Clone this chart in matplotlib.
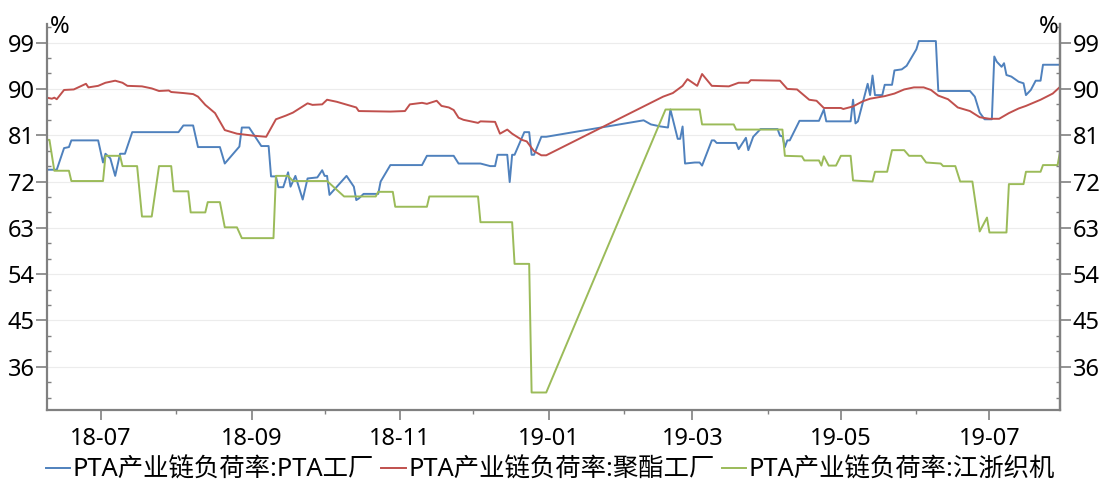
import matplotlib
matplotlib.use("Agg")
import matplotlib.pyplot as plt
import matplotlib.dates as mdates
from matplotlib.ticker import MultipleLocator
import pandas as pd

plt.rcParams["font.family"] = ["Noto Sans", "Noto Sans CJK SC", "DejaVu Sans"]

# ---------------------------------------------------------------------------
# Data
# ---------------------------------------------------------------------------

pta_dates = [
    "2018-06-09", "2018-06-13", "2018-06-16", "2018-06-18", "2018-06-19", "2018-06-30",
    "2018-07-02", "2018-07-03", "2018-07-05", "2018-07-07", "2018-07-09", "2018-07-11",
    "2018-07-14", "2018-08-02", "2018-08-04", "2018-08-08", "2018-08-10", "2018-08-19",
    "2018-08-21", "2018-08-27", "2018-08-28", "2018-08-31", "2018-09-05", "2018-09-08",
    "2018-09-09", "2018-09-11", "2018-09-12", "2018-09-14", "2018-09-16", "2018-09-17",
    "2018-09-19", "2018-09-22", "2018-09-24", "2018-09-28", "2018-09-30", "2018-10-01",
    "2018-10-02", "2018-10-03", "2018-10-10", "2018-10-13", "2018-10-14", "2018-10-15",
    "2018-10-17", "2018-10-23", "2018-10-24", "2018-10-28", "2018-11-10", "2018-11-12",
    "2018-11-23", "2018-11-25", "2018-12-04", "2018-12-08", "2018-12-10", "2018-12-11",
    "2018-12-15", "2018-12-16", "2018-12-17", "2018-12-18", "2018-12-22", "2018-12-24",
    "2018-12-25", "2018-12-26", "2018-12-29", "2018-12-31", "2019-02-09", "2019-02-12",
    "2019-02-16", "2019-02-19", "2019-02-20", "2019-02-23", "2019-02-24", "2019-02-25",
    "2019-02-26", "2019-03-02", "2019-03-04", "2019-03-05", "2019-03-09", "2019-03-10",
    "2019-03-11", "2019-03-19", "2019-03-20", "2019-03-23", "2019-03-24", "2019-03-26",
    "2019-03-29", "2019-04-05", "2019-04-06", "2019-04-07", "2019-04-08", "2019-04-09",
    "2019-04-10", "2019-04-14", "2019-04-22", "2019-04-24", "2019-04-25", "2019-05-05",
    "2019-05-06", "2019-05-07", "2019-05-08", "2019-05-12", "2019-05-13", "2019-05-14",
    "2019-05-15", "2019-05-18", "2019-05-19", "2019-05-22", "2019-05-23", "2019-05-26",
    "2019-05-28", "2019-05-29", "2019-06-01", "2019-06-02", "2019-06-09", "2019-06-10",
    "2019-06-23", "2019-06-25", "2019-06-27", "2019-06-29", "2019-07-02", "2019-07-03",
    "2019-07-04", "2019-07-06", "2019-07-07", "2019-07-08", "2019-07-10", "2019-07-13",
    "2019-07-15", "2019-07-16", "2019-07-18", "2019-07-20", "2019-07-22", "2019-07-23",
    "2019-07-30",
]
pta_values = [
    74.3, 74.3, 78.5, 78.7, 80.0, 80.0,
    75.7, 77.4, 76.5, 73.1, 77.4, 77.4,
    81.6, 81.6, 82.9, 82.9, 78.7, 78.7,
    75.5, 78.8, 82.5, 82.5, 78.9, 78.9,
    73.0, 73.0, 70.9, 70.9, 73.8, 71.0,
    73.1, 68.5, 72.6, 72.8, 74.2, 73.1,
    73.1, 69.4, 73.1, 71.0, 68.4, 68.7,
    69.6, 69.6, 72.0, 75.2, 75.2, 77.0,
    77.0, 75.5, 75.5, 75.0, 75.0, 77.2,
    77.2, 71.9, 77.2, 77.2, 81.6, 81.6,
    77.2, 77.2, 80.7, 80.7, 83.9, 83.1,
    82.7, 82.5, 86.0, 80.3, 80.3, 82.7,
    75.5, 75.7, 75.7, 75.1, 80.0, 80.0,
    79.5, 79.5, 78.3, 80.5, 78.1, 80.7,
    82.2, 82.2, 80.9, 80.8, 78.7, 80.0,
    80.0, 83.8, 83.8, 86.0, 83.7, 83.7,
    87.9, 83.3, 83.7, 91.0, 88.8, 92.6,
    88.8, 88.8, 90.8, 90.8, 93.6, 93.8,
    94.5, 95.3, 97.7, 99.3, 99.3, 89.6,
    89.6, 88.5, 85.4, 84.1, 84.1, 96.3,
    95.3, 94.3, 95.0, 92.7, 92.4, 91.4,
    91.1, 88.8, 89.8, 91.6, 91.6, 94.7,
    94.7,
]

polyester_dates = [
    "2018-06-09", "2018-06-11", "2018-06-12", "2018-06-13", "2018-06-16", "2018-06-20",
    "2018-06-25", "2018-06-26", "2018-06-30", "2018-07-03", "2018-07-07", "2018-07-10",
    "2018-07-12", "2018-07-18", "2018-07-22", "2018-07-25", "2018-07-29", "2018-07-30",
    "2018-08-04", "2018-08-08", "2018-08-10", "2018-08-13", "2018-08-17", "2018-08-21",
    "2018-08-26", "2018-09-02", "2018-09-07", "2018-09-09", "2018-09-11", "2018-09-15",
    "2018-09-18", "2018-09-24", "2018-09-26", "2018-09-30", "2018-10-02", "2018-10-06",
    "2018-10-14", "2018-10-15", "2018-10-28", "2018-11-03", "2018-11-05", "2018-11-10",
    "2018-11-12", "2018-11-16", "2018-11-18", "2018-11-21", "2018-11-23", "2018-11-25",
    "2018-11-27", "2018-12-03", "2018-12-04", "2018-12-10", "2018-12-12", "2018-12-15",
    "2018-12-17", "2018-12-21", "2018-12-23", "2018-12-26", "2018-12-29", "2018-12-31",
    "2019-02-17", "2019-02-21", "2019-02-25", "2019-02-27", "2019-03-03", "2019-03-05",
    "2019-03-09", "2019-03-16", "2019-03-20", "2019-03-24", "2019-03-25", "2019-04-06",
    "2019-04-09", "2019-04-13", "2019-04-18", "2019-04-21", "2019-04-24", "2019-05-01",
    "2019-05-02", "2019-05-06", "2019-05-10", "2019-05-13", "2019-05-19", "2019-05-23",
    "2019-05-27", "2019-05-31", "2019-06-04", "2019-06-07", "2019-06-10", "2019-06-14",
    "2019-06-18", "2019-06-23", "2019-06-27", "2019-07-01", "2019-07-05", "2019-07-09",
    "2019-07-13", "2019-07-16", "2019-07-22", "2019-07-27", "2019-07-30",
]
polyester_values = [
    88.3, 88.1, 88.3, 88.0, 89.8, 89.9,
    91.0, 90.3, 90.6, 91.2, 91.6, 91.2,
    90.6, 90.5, 90.1, 89.6, 89.7, 89.4,
    89.2, 89.0, 88.5, 86.9, 85.3, 82.0,
    81.3, 80.9, 80.7, 82.4, 84.1, 84.8,
    85.4, 87.2, 86.9, 87.0, 87.9, 87.5,
    86.4, 85.7, 85.6, 85.7, 87.0, 87.3,
    87.1, 87.7, 86.7, 86.4, 85.9, 84.4,
    84.0, 83.4, 83.7, 83.6, 81.3, 82.1,
    81.3, 80.1, 79.8, 77.9, 77.1, 77.1,
    88.5, 89.2, 90.6, 91.9, 90.6, 92.9,
    90.6, 90.5, 91.2, 91.2, 91.7, 91.6,
    90.0, 89.9, 87.9, 87.7, 86.3, 86.3,
    86.1, 86.6, 87.6, 88.1, 88.6, 89.1,
    89.9, 90.3, 90.3, 89.8, 88.7, 88.0,
    86.4, 85.7, 84.5, 84.2, 84.2, 85.3,
    86.2, 86.7, 87.9, 89.1, 90.4,
]

loom_dates = [
    "2018-06-09", "2018-06-10", "2018-06-12", "2018-06-18", "2018-06-19", "2018-07-02",
    "2018-07-03", "2018-07-09", "2018-07-10", "2018-07-16", "2018-07-18", "2018-07-22",
    "2018-07-25", "2018-07-30", "2018-07-31", "2018-08-06", "2018-08-07", "2018-08-13",
    "2018-08-14", "2018-08-19", "2018-08-21", "2018-08-26", "2018-08-28", "2018-09-10",
    "2018-09-11", "2018-09-16", "2018-09-18", "2018-10-02", "2018-10-09", "2018-10-22",
    "2018-10-23", "2018-10-29", "2018-10-30", "2018-11-12", "2018-11-13", "2018-12-03",
    "2018-12-04", "2018-12-17", "2018-12-18", "2018-12-24", "2018-12-25", "2018-12-31",
    "2019-02-18", "2019-03-04", "2019-03-05", "2019-03-18", "2019-03-19", "2019-04-07",
    "2019-04-08", "2019-04-15", "2019-04-16", "2019-04-22", "2019-04-23", "2019-04-24",
    "2019-04-26", "2019-04-29", "2019-05-01", "2019-05-05", "2019-05-06", "2019-05-14",
    "2019-05-15", "2019-05-20", "2019-05-22", "2019-05-27", "2019-05-29", "2019-06-03",
    "2019-06-05", "2019-06-11", "2019-06-12", "2019-06-17", "2019-06-19", "2019-06-24",
    "2019-06-27", "2019-06-30", "2019-07-01", "2019-07-08", "2019-07-09", "2019-07-15",
    "2019-07-16", "2019-07-22", "2019-07-23", "2019-07-29", "2019-07-30",
]
loom_values = [
    80.1, 80.1, 74.1, 74.1, 72.1, 72.1,
    77.0, 77.0, 75.0, 75.0, 65.2, 65.2,
    75.0, 75.0, 70.1, 70.1, 66.0, 66.0,
    68.0, 68.0, 63.1, 63.1, 61.0, 61.0,
    73.1, 73.1, 72.1, 72.1, 69.1, 69.1,
    70.0, 70.0, 67.1, 67.1, 69.1, 69.1,
    64.1, 64.1, 56.0, 56.0, 31.0, 31.0,
    86.0, 86.0, 83.1, 83.1, 82.1, 82.1,
    77.0, 76.9, 76.1, 76.1, 75.1, 76.9,
    75.1, 75.1, 77.0, 77.0, 72.2, 72.0,
    73.9, 73.9, 78.1, 78.1, 77.0, 77.0,
    75.7, 75.5, 75.0, 75.0, 72.0, 72.0,
    62.3, 65.0, 62.1, 62.1, 71.5, 71.5,
    73.9, 73.9, 75.2, 75.2, 77.8,
]

series_labels = [
    "PTA产业链负荷率:PTA工厂",
    "PTA产业链负荷率:聚酯工厂",
    "PTA产业链负荷率:江浙织机",
]
series_colors = ["#4f81bd", "#c0504d", "#9bbb59"]

y_ticks = [36, 45, 54, 63, 72, 81, 90, 99]
x_start, x_end = "2018-06-09", "2019-07-30"

_AXIS_C = "#808080"
_GRID_C = "#ececec"
_FS = 17


def _style_yaxis(ax):
    ax.spines["top"].set_visible(False)
    for side in ("left", "right", "bottom"):
        ax.spines[side].set_color(_AXIS_C)
        ax.spines[side].set_linewidth(1.6)
    ax.tick_params(axis="y", which="major", length=8, width=1.2, color=_AXIS_C,
                   labelsize=_FS, pad=1)
    ax.tick_params(axis="y", which="minor", direction="in", length=3, width=1.0,
                   color=_AXIS_C)


fig = plt.figure(figsize=(11.01, 4.82), dpi=100)
ax = fig.add_axes([0.0427, 0.1494, 0.9201, 0.8006])

series = [
    (pta_dates, pta_values),
    (polyester_dates, polyester_values),
    (loom_dates, loom_values),
]
for (dates, vals), label, color in zip(series, series_labels, series_colors):
    ax.plot(pd.to_datetime(dates), vals, color=color, lw=1.4, label=label)

ax.set_ylim(27.6, 102.6)
ax.set_yticks(y_ticks)
ax.yaxis.set_minor_locator(MultipleLocator(3))
ax.set_xlim(pd.Timestamp(x_start), pd.Timestamp(x_end))
ax.xaxis.set_major_locator(mdates.MonthLocator(bymonth=[1, 3, 5, 7, 9, 11]))
ax.xaxis.set_minor_locator(mdates.MonthLocator())
ax.xaxis.set_major_formatter(mdates.DateFormatter("%y-%m"))
ax.grid(axis="y", color=_GRID_C, lw=0.8)
ax.set_axisbelow(True)
_style_yaxis(ax)
ax.tick_params(axis="x", which="major", length=7, width=1.2, color=_AXIS_C,
               labelsize=_FS, pad=5)
ax.tick_params(axis="x", which="minor", length=3, width=1.0, color=_AXIS_C)

# Right-hand axis mirrors the left one
ax2 = ax.twinx()
ax2.set_ylim(ax.get_ylim())
ax2.set_yticks(y_ticks)
ax2.yaxis.set_minor_locator(MultipleLocator(3))
_style_yaxis(ax2)
ax2.spines["bottom"].set_visible(False)
ax2.spines["left"].set_visible(False)

fig.text(0.0454, 0.9315, "%", fontsize=_FS, ha="left", va="baseline")
fig.text(0.9610, 0.9315, "%", fontsize=_FS, ha="right", va="baseline")

fig.legend(*ax.get_legend_handles_labels(), loc="center",
           bbox_to_anchor=(0.5, 0.024), ncol=3, frameon=False, fontsize=18.3,
           handlelength=0.95, handletextpad=0.1, columnspacing=0.3,
           borderaxespad=0, borderpad=0)

fig.savefig("out.png", dpi=100)
